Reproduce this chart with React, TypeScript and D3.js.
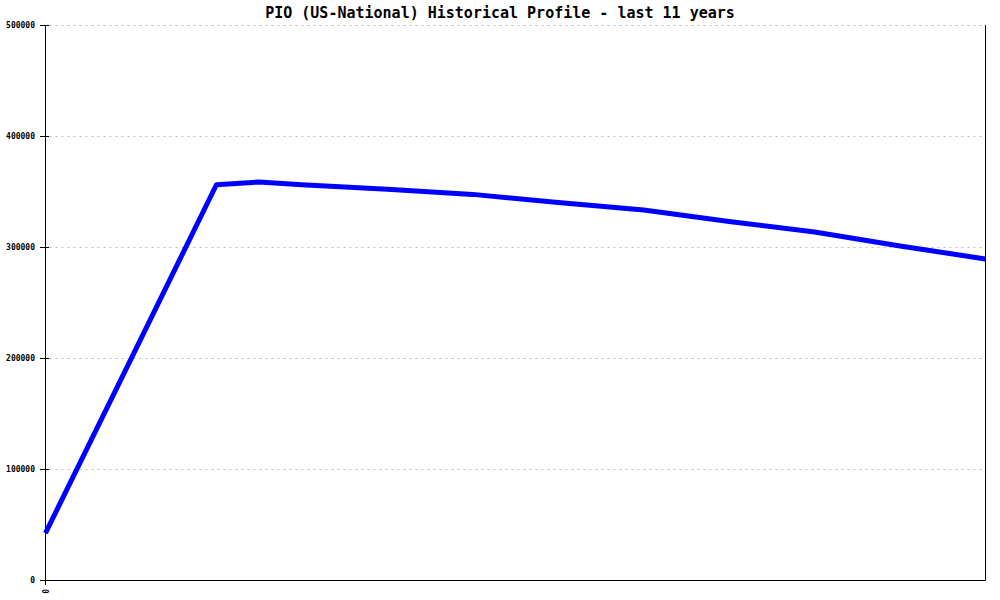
import React from "react";
import * as d3 from "d3";

const title = "PIO (US-National) Historical Profile - last 11 years";
const yearPos = [0, 1, 2, 2.5, 3, 4, 5, 6, 7, 8, 9, 10, 11];
const values = [42300, 199000, 356100, 358600, 356000, 352000, 347400, 340100, 333300, 323000, 313500, 300900, 289200];
const yTicks = [0, 100000, 200000, 300000, 400000, 500000];
const xLabels = ["0"];

export default function App() {
  const W = 1000, H = 600;
  const left = 45.5, right = 985.5, top = 25, bottom = 580;
  const x = d3.scaleLinear().domain([0, 11]).range([left, right]);
  const y = d3.scaleLinear().domain([0, 500000]).range([bottom, top]);
  const pts: [number, number][] = yearPos.map((p, i) => [p, values[i]]);
  const line = d3.line<[number, number]>().x(d => x(d[0])).y(d => y(d[1]));
  const font = "'DejaVu Sans Mono', monospace";
  return (
    <svg width={W} height={H} style={{ position: "absolute", left: 0, top: 0, background: "#fff" }}>
      <text x={500} y={18} textAnchor="middle" fontFamily={font} fontSize={15} fontWeight="bold" fill="#000">{title}</text>
      {yTicks.filter(t => t > 0).map(t => (
        <line key={"g" + t} x1={left + 4} x2={right} y1={Math.round(y(t)) + 0.5} y2={Math.round(y(t)) + 0.5}
          stroke="#bbb" strokeWidth={1} strokeDasharray="2,4" />
      ))}
      {yTicks.map(t => (
        <g key={"t" + t}>
          <line x1={40} x2={49} y1={Math.round(y(t)) + 0.5} y2={Math.round(y(t)) + 0.5} stroke="#000" />
          <text x={35} y={Math.round(y(t)) + 3} textAnchor="end" fontFamily={font} fontSize={8} fontWeight="bold" fill="#000">{t}</text>
        </g>
      ))}
      <line x1={left} x2={left} y1={top} y2={585} stroke="#000" />
      <line x1={right} x2={right} y1={top} y2={bottom + 0.5} stroke="#000" />
      <line x1={left} x2={right} y1={bottom + 0.5} y2={bottom + 0.5} stroke="#000" />
      {xLabels.map((l, i) => (
        <text key={l} transform={`translate(${x(i) + 3},${589}) rotate(-90)`} textAnchor="end" fontFamily={font} fontSize={8} fontWeight="bold" fill="#000">{l}</text>
      ))}
      <path d={line(pts) || ""} fill="none" stroke="#0000ff" strokeWidth={5} strokeLinejoin="round" />
    </svg>
  );
}
